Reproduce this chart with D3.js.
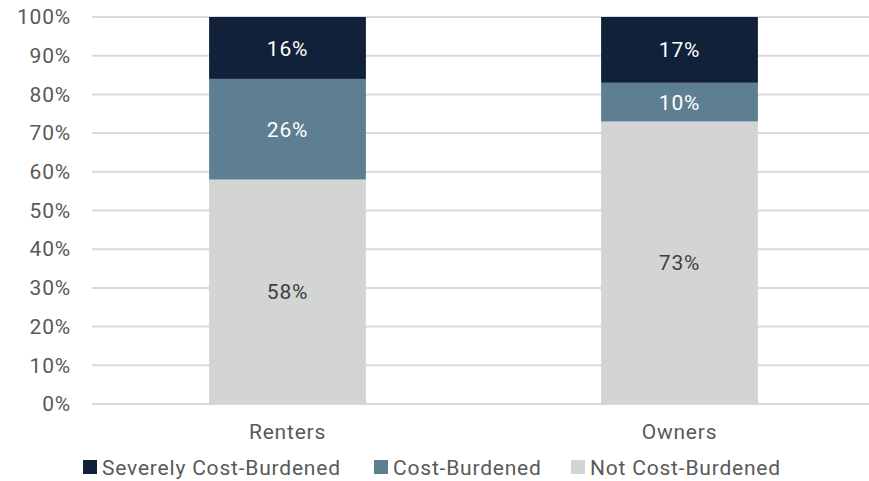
<!DOCTYPE html>
<html>
<head>
<meta charset="utf-8">
<script src="https://d3js.org/d3.v7.min.js"></script>
<style>
  body { margin: 0; background: #fff; }
  svg { display: block; font-family: Roboto, "Liberation Sans", sans-serif; }
</style>
</head>
<body>
<svg id="canvas" width="869" height="481"></svg>
<script>
"use strict"

// values (percent)
const categories = ["Renters", "Owners"]
const notBurdened = [58, 73]
const burdened = [26, 10]
const severe = [16, 17]
const seriesNames = ["Not Cost-Burdened", "Cost-Burdened", "Severely Cost-Burdened"]
const legendOrder = ["Severely Cost-Burdened", "Cost-Burdened", "Not Cost-Burdened"]
const yTicks = [0, 10, 20, 30, 40, 50, 60, 70, 80, 90, 100]

const colors = {
  "Not Cost-Burdened": "#d3d5d5",
  "Cost-Burdened": "#5e7f91",
  "Severely Cost-Burdened": "#12213a",
}
const labelColors = {
  "Not Cost-Burdened": "#404040",
  "Cost-Burdened": "#ffffff",
  "Severely Cost-Burdened": "#ffffff",
}

const FS = "21px"
const LS = "0.8px"

const rows = categories.map((c, i) => ({
  cat: c,
  "Not Cost-Burdened": notBurdened[i],
  "Cost-Burdened": burdened[i],
  "Severely Cost-Burdened": severe[i],
}))

const svg = d3.select("#canvas")

const x = d3.scaleBand()
  .domain(categories)
  .range([91.5, 875.5])
  .paddingInner(0.6)
  .paddingOuter(0.3)

const y = d3.scaleLinear()
  .domain([0, 100])
  .range([404, 17])

// gridlines
svg.append("g")
  .selectAll("line")
  .data(yTicks)
  .enter().append("line")
    .attr("x1", 92)
    .attr("x2", 869)
    .attr("y1", d => y(d))
    .attr("y2", d => y(d))
    .attr("stroke", "#d9d9d9")
    .attr("stroke-width", 2)

// y axis labels
const yAxis = d3.axisLeft(y)
  .tickValues(yTicks)
  .tickFormat(d => d + "%")
  .tickSize(0)
  .tickPadding(0)

svg.append("g")
  .attr("transform", "translate(71,0)")
  .call(yAxis)
  .call(g => g.select(".domain").remove())
  .call(g => g.selectAll("text")
    .attr("fill", "#595959")
    .style("font-size", FS)
    .style("font-family", "Roboto, sans-serif")
    .style("letter-spacing", LS))

// stacked bars
const stack = d3.stack().keys(seriesNames)(rows)

const layers = svg.append("g")
  .selectAll("g")
  .data(stack)
  .enter().append("g")
    .attr("fill", s => colors[s.key])

layers.selectAll("rect")
  .data(s => s)
  .enter().append("rect")
    .attr("x", d => x(d.data.cat))
    .attr("width", x.bandwidth())
    .attr("y", d => y(d[1]))
    .attr("height", d => y(d[0]) - y(d[1]))

// segment labels
layers.selectAll("text")
  .data(s => s.map(d => ({ d, key: s.key })))
  .enter().append("text")
    .attr("x", o => x(o.d.data.cat) + x.bandwidth() / 2)
    .attr("y", o => (y(o.d[0]) + y(o.d[1])) / 2)
    .attr("dy", "0.36em")
    .attr("text-anchor", "middle")
    .attr("fill", o => labelColors[o.key])
    .style("font-size", FS)
    .style("letter-spacing", LS)
    .text(o => (o.d[1] - o.d[0]) + "%")

// category labels
const xAxis = d3.axisBottom(x).tickSize(0).tickPadding(0)
svg.append("g")
  .attr("transform", "translate(0,424)")
  .call(xAxis)
  .call(g => g.select(".domain").remove())
  .call(g => g.selectAll("text")
    .attr("fill", "#595959")
    .style("font-size", FS)
    .style("font-family", "Roboto, sans-serif")
    .style("letter-spacing", LS))

// legend
const legendX = [83, 374, 571]
const legend = svg.append("g")
  .selectAll("g")
  .data(legendOrder)
  .enter().append("g")
    .attr("transform", (d, i) => "translate(" + legendX[i] + ",460)")

legend.append("rect")
  .attr("width", 14)
  .attr("height", 14)
  .attr("fill", d => colors[d])

legend.append("text")
  .attr("x", 19)
  .attr("y", 14.5)
  .attr("fill", "#595959")
  .style("font-size", FS)
  .style("letter-spacing", LS)
  .text(d => d)
</script>
</body>
</html>
